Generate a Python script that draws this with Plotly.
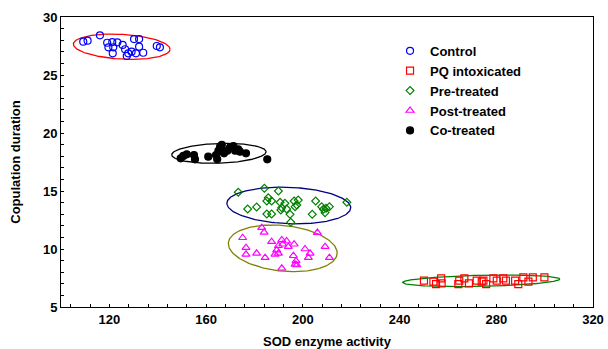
import numpy as np
import plotly.graph_objects as go

# ---- data ----
control_x = [109.2, 111.0, 116.1, 119.1, 121.2, 123.3, 119.6, 121.6, 121.4, 125.5, 126.5,
             127.8, 127.2, 129.2, 131.0, 134.0, 132.3, 130.2, 132.3, 139.6, 140.9]
control_y = [27.87, 27.96, 28.42, 27.78, 27.84, 27.82, 27.39, 27.39, 26.87, 27.59, 27.22,
             26.87, 26.64, 27.01, 26.87, 26.92, 27.44, 28.10, 28.10, 27.50, 27.39]

pq_x = [250.1, 254.0, 257.2, 257.4, 255.1, 264.3, 264.7, 266.8, 268.7, 271.9, 274.0, 275.8,
        274.7, 280.2, 282.9, 284.0, 287.8, 289.1, 291.2, 293.3, 295.1, 299.9, 278.8]
pq_y = [7.27, 7.18, 7.47, 7.04, 6.98, 6.98, 7.27, 7.47, 7.04, 7.27, 7.18, 6.98,
        7.27, 7.27, 7.47, 7.27, 7.27, 6.98, 7.56, 7.18, 7.56, 7.56, 7.47]

pre_x = [173.3, 184.1, 189.9, 185.7, 187.1, 185.1, 190.6, 192.6, 191.3, 190.9, 193.3, 196.4,
         198.1, 197.5, 196.8, 177.2, 180.9, 185.1, 187.1, 194.7, 195.0, 205.3, 207.8, 208.5,
         209.6, 211.0, 203.9, 209.2, 218.2]
pre_y = [14.89, 15.23, 15.00, 14.42, 14.14, 14.14, 14.03, 13.94, 13.56, 13.36, 13.45, 14.14,
         14.22, 13.79, 13.65, 13.45, 13.62, 13.02, 13.02, 12.99, 12.30, 14.14, 13.65, 13.42,
         13.51, 13.65, 12.99, 13.13, 14.03]

post_x = [183.0, 184.0, 175.1, 187.1, 191.3, 193.3, 191.7, 189.9, 194.0, 196.4, 189.2, 189.9,
          188.5, 176.5, 176.5, 180.9, 184.4, 196.1, 197.2, 196.8, 197.5, 191.3, 200.9, 203.0,
          202.3, 206.0, 209.2, 211.0]
post_y = [11.84, 11.44, 10.97, 10.63, 10.78, 10.69, 10.41, 10.28, 10.20, 10.41, 9.91, 9.63,
          9.54, 10.11, 9.54, 9.63, 9.25, 9.42, 8.97, 8.68, 8.62, 8.34, 10.00, 9.63,
          9.25, 11.42, 10.20, 9.25]

co_x = [150.6, 149.5, 152.0, 155.0, 155.4, 160.9, 164.6, 164.1, 165.1, 165.8, 166.5, 167.4,
        168.8, 169.9, 171.3, 172.0, 173.3, 176.5, 174.0, 185.3, 166.5]
co_y = [18.02, 17.82, 18.16, 18.10, 17.73, 17.96, 17.73, 18.10, 18.47, 18.82, 18.47, 18.25,
        18.47, 18.77, 18.88, 18.47, 18.59, 18.25, 18.39, 17.73, 18.97]

series_names = ["Control", "PQ intoxicated", "Pre-treated", "Post-treated", "Co-treated"]

# confidence ellipses: centre, half extents in x / y, and tilt (cos of phase)
ell_cx = [125.1, 273.8, 194.2, 191.7, 165.3]
ell_cy = [27.44, 7.26, 13.75, 10.06, 18.25]
ell_rx = [20.0, 32.5, 25.6, 22.5, 19.5]
ell_ry = [1.09, 0.50, 1.58, 2.01, 0.86]
ell_cos = [-0.2, 0.3, -0.12, -0.2, 0.15]

x_ticks = [120, 160, 200, 240, 280, 320]
y_ticks = [5, 10, 15, 20, 25, 30]

# ---- styling ----
xs = [control_x, pq_x, pre_x, post_x, co_x]
ys = [control_y, pq_y, pre_y, post_y, co_y]
symbols = ["circle-open", "square-open", "diamond-open", "triangle-up-open", "circle"]
mcolors = ["#0000FF", "#FF0000", "#008000", "#FF00FF", "#000000"]
msizes = [7, 7, 6, 7, 7]
ecolors = ["#FF0000", "#008000", "#000080", "#808000", "#000000"]

fig = go.Figure()
t = np.linspace(0, 2 * np.pi, 200)
for i in range(5):
    phi = np.arccos(ell_cos[i])
    ex = ell_cx[i] + ell_rx[i] * np.cos(t)
    ey = ell_cy[i] + ell_ry[i] * np.cos(t + phi)
    fig.add_trace(go.Scatter(x=ex, y=ey, mode="lines", showlegend=False, hoverinfo="skip",
                             line=dict(color=ecolors[i], width=1.3)))

for i in range(5):
    fig.add_trace(go.Scatter(
        x=xs[i], y=ys[i], mode="markers", name=series_names[i],
        marker=dict(symbol=symbols[i], size=msizes[i], color=mcolors[i],
                    line=dict(width=1.2, color=mcolors[i]))))

fam = "Liberation Sans, Arial, sans-serif"

fig.update_layout(
    width=608, height=349,
    margin=dict(l=61, r=15, t=17, b=42),
    paper_bgcolor="white", plot_bgcolor="white",
    font=dict(family=fam, size=13, color="black"),
    showlegend=True,
    legend=dict(x=0.6185, y=0.935, xanchor="left", yanchor="top",
                bgcolor="rgba(0,0,0,0)", borderwidth=0, tracegroupgap=0,
                font=dict(family=fam, size=13, color="black", weight="bold")),
    xaxis=dict(range=[100, 320], tickvals=x_ticks, ticktext=[str(v) for v in x_ticks],
               ticks="inside", ticklen=3, tickcolor="black", automargin=False,
               showline=True, linecolor="black", linewidth=1, mirror=True,
               showgrid=False, zeroline=False,
               minor=dict(dtick=8, tick0=0, ticks="inside", ticklen=3, tickcolor="black"),
               tickfont=dict(size=13, weight="bold"),
               title=dict(text="SOD enzyme activity", font=dict(size=13, weight="bold"),
                          standoff=11)),
    yaxis=dict(range=[5, 30], tickvals=y_ticks, ticktext=[str(v) for v in y_ticks],
               ticks="inside", ticklen=3, tickcolor="black", automargin=False,
               showline=True, linecolor="black", linewidth=1, mirror=True,
               showgrid=False, zeroline=False,
               minor=dict(dtick=1, tick0=0, ticks="inside", ticklen=3, tickcolor="black"),
               tickfont=dict(size=13, weight="bold"),
               title=dict(text="Copulation duration", font=dict(size=13, weight="bold"),
                          standoff=19)),
)

fig.write_html("out.html", config={"displayModeBar": False},
               post_script="document.body.style.margin='0';")
